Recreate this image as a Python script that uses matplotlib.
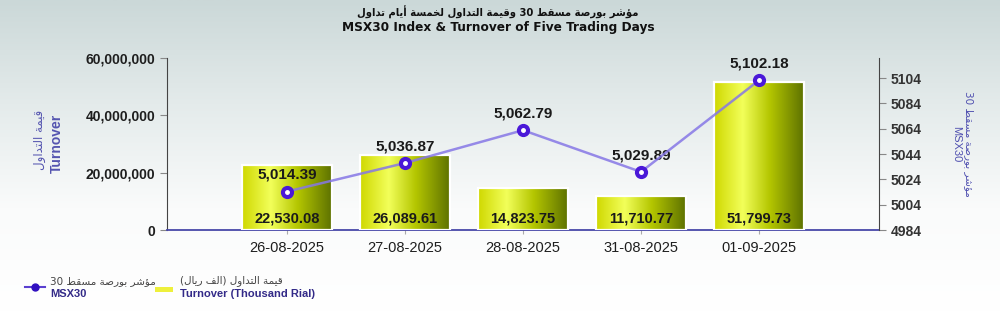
import numpy as np
import matplotlib
matplotlib.use("Agg")
import matplotlib.pyplot as plt
from matplotlib.colors import LinearSegmentedColormap
from matplotlib.lines import Line2D
from matplotlib.patches import Rectangle

# data
dates = ["26-08-2025", "27-08-2025", "28-08-2025", "31-08-2025", "01-09-2025"]
turnover = [22530.08, 26089.61, 14823.75, 11710.77, 51799.73]   # thousand rial
msx30 = [5014.39, 5036.87, 5062.79, 5029.89, 5102.18]
left_ticks = [0, 20000000, 40000000, 60000000]
right_ticks = [4984, 5004, 5024, 5044, 5064, 5084, 5104]

# tiny arabic shaper (presentation forms) since matplotlib does no shaping
FORMS = {
    'ا': ('\uFE8D', '\uFE8E'), 'أ': ('\uFE83', '\uFE84'), 'ؤ': ('\uFE85', '\uFE86'),
    'ة': ('\uFE93', '\uFE94'), 'د': ('\uFEA9', '\uFEAA'), 'ر': ('\uFEAD', '\uFEAE'),
    'و': ('\uFEED', '\uFEEE'),
    'ب': ('\uFE8F', '\uFE90', '\uFE91', '\uFE92'), 'ت': ('\uFE95', '\uFE96', '\uFE97', '\uFE98'),
    'خ': ('\uFEA5', '\uFEA6', '\uFEA7', '\uFEA8'), 'س': ('\uFEB1', '\uFEB2', '\uFEB3', '\uFEB4'),
    'ش': ('\uFEB5', '\uFEB6', '\uFEB7', '\uFEB8'), 'ص': ('\uFEB9', '\uFEBA', '\uFEBB', '\uFEBC'),
    'ط': ('\uFEC1', '\uFEC2', '\uFEC3', '\uFEC4'), 'ف': ('\uFED1', '\uFED2', '\uFED3', '\uFED4'),
    'ق': ('\uFED5', '\uFED6', '\uFED7', '\uFED8'), 'ل': ('\uFEDD', '\uFEDE', '\uFEDF', '\uFEE0'),
    'م': ('\uFEE1', '\uFEE2', '\uFEE3', '\uFEE4'), 'ي': ('\uFEF1', '\uFEF2', '\uFEF3', '\uFEF4'),
}
MIRROR = {'(': ')', ')': '('}


def shape_word(w):
    out = []
    for i, c in enumerate(w):
        if c not in FORMS:
            out.append(c)
            continue
        f = FORMS[c]
        prev = w[i - 1] if i > 0 else ''
        nxt = w[i + 1] if i + 1 < len(w) else ''
        pj = prev in FORMS and len(FORMS[prev]) == 4
        nj = len(f) == 4 and nxt in FORMS
        if pj and nj:
            out.append(f[3])
        elif pj:
            out.append(f[1])
        elif nj:
            out.append(f[2])
        else:
            out.append(f[0])
    return ''.join(out)


def ar(text):
    toks = []
    for t in text.split(' '):
        if t.isdigit():
            toks.append(t)
        else:
            s = shape_word(t)[::-1]
            toks.append(''.join(MIRROR.get(c, c) for c in s))
    return ' '.join(toks[::-1])


AR_FONT = ['DejaVu Sans']
EN_FONT = ['Liberation Sans', 'DejaVu Sans']
plt.rcParams['font.family'] = EN_FONT

fig = plt.figure(figsize=(10, 3.12), dpi=100)

# background gradient
bg = fig.add_axes([0, 0, 1, 1], zorder=-10)
grad = np.linspace(0, 1, 256).reshape(-1, 1)
bg_cmap = LinearSegmentedColormap.from_list("bg", ["#cbd8d8", "#e4ebeb", "#fafbfb", "#ffffff"])
bg.imshow(grad, aspect='auto', cmap=bg_cmap, extent=[0, 1, 0, 1], origin='upper')
bg.axis('off')

ax = fig.add_axes([0.167, 0.2628, 0.712, 0.5513])
ax.patch.set_alpha(0)
x = np.arange(len(dates))
vals = np.array(turnover) * 1000
bw = 0.76

bar_cmap = LinearSegmentedColormap.from_list(
    "bar", [(0, "#cfd800"), (0.32, "#f2ff5a"), (0.62, "#b4c600"), (1, "#5e7200")])
hgrad = np.linspace(0, 1, 256).reshape(1, -1)
for xi, v in zip(x, vals):
    rect = Rectangle((xi - bw / 2, 0), bw, v, facecolor='none', edgecolor='none')
    ax.add_patch(rect)
    im = ax.imshow(hgrad, cmap=bar_cmap, aspect='auto',
                   extent=[xi - bw / 2, xi + bw / 2, 0, v], zorder=2)
    im.set_clip_path(rect)
    ax.add_patch(Rectangle((xi - bw / 2, 0), bw, v, facecolor='none',
                           edgecolor='white', linewidth=1.6, zorder=3))

ax.set_xlim(-1.017, 5.017)
ax.set_ylim(0, 60000000)
ax.set_yticks(left_ticks)
ax.set_yticklabels([f"{t:,}" for t in left_ticks], fontsize=10, fontweight='bold', color='#1e1e1e')
ax.set_xticks(x)
ax.set_xticklabels(dates, fontsize=10.5, color='#1e1e1e')
ax.tick_params(axis='y', length=5, color='#888888', width=0.8)
ax.tick_params(axis='x', length=3, color='#aaaaaa', width=0.8, pad=5)
ax.spines['top'].set_visible(False)
ax.spines['right'].set_visible(False)
ax.spines['left'].set_color('#444444')
ax.spines['bottom'].set_color('#4848a8')
ax.spines['bottom'].set_linewidth(1.3)

for xi, t in zip(x, turnover):
    ax.annotate(f"{t:,.2f}", (xi, 0), xytext=(0, 3), textcoords='offset points',
                ha='center', va='bottom', fontsize=10.5, fontweight='bold', color='#1a1a1a',
                zorder=5)

ax2 = ax.twinx()
ax2.set_ylim(4984, 5119.8)
ax2.set_yticks(right_ticks)
ax2.set_yticklabels([str(t) for t in right_ticks], fontsize=10, fontweight='bold', color='#333333')
ax2.tick_params(axis='y', length=5, color='#888888', width=0.8)
for s in ['top', 'left', 'bottom']:
    ax2.spines[s].set_visible(False)
ax2.spines['right'].set_color('#444444')

ax2.plot(x, msx30, color='#8677e6', lw=1.8, alpha=0.85, zorder=4)
ax2.plot(x, msx30, 'o', ms=8.5, color='#4a18d8', zorder=5)
ax2.plot(x, msx30, 'o', ms=2.5, color='white', zorder=6)
for xi, v in zip(x, msx30):
    ax2.annotate(f"{v:,.2f}", (xi, v), xytext=(0, 7), textcoords='offset points',
                 ha='center', va='bottom', fontsize=11, fontweight='bold', color='#1a1a1a')

# titles
fig.text(0.498, 1 - 12 / 312, ar("مؤشر بورصة مسقط 30 وقيمة التداول لخمسة أيام تداول"),
         ha='center', va='center', fontsize=8, fontweight='bold', fontstretch='condensed',
         family=AR_FONT, color='#111111')
fig.text(0.498, 1 - 28 / 312, "MSX30 Index & Turnover of Five Trading Days",
         ha='center', va='center', fontsize=9.7, fontweight='bold', fontstretch='condensed',
         family=['DejaVu Sans'], color='#111111')

# axis labels
fig.text(40 / 1000, 1 - 140 / 312, ar("قيمة التداول"), rotation=90, ha='center', va='center',
         fontsize=8.5, family=AR_FONT, color='#5555b0')
fig.text(57 / 1000, 1 - 143 / 312, "Turnover", rotation=90, ha='center', va='center',
         fontsize=10, fontweight='bold', color='#5555b0')
fig.text(969 / 1000, 1 - 144 / 312, ar("مؤشر بورصة مسقط 30"), rotation=270, ha='center',
         va='center', fontsize=7.5, family=AR_FONT, color='#5050b0')
fig.text(956 / 1000, 1 - 144 / 312, "MSX30", rotation=270, ha='center', va='center',
         fontsize=8, color='#5050b0')

# legend
fig.add_artist(Line2D([25 / 1000, 45 / 1000], [1 - 287 / 312] * 2, color='#5a40d0', lw=1.5))
fig.add_artist(Line2D([35 / 1000], [1 - 287 / 312], marker='o', ms=5, color='#3010c0'))
fig.text(50 / 1000, 1 - 281 / 312, ar("مؤشر بورصة مسقط 30"), ha='left', va='center',
         fontsize=7.5, family=AR_FONT, color='#444444')
fig.text(50 / 1000, 1 - 294 / 312, "MSX30", ha='left', va='center', fontsize=8,
         fontweight='bold', color='#332a88')
fig.add_artist(Rectangle((155 / 1000, 1 - 292 / 312), 18 / 1000, 5 / 312,
                         transform=fig.transFigure, facecolor='#eef03c', edgecolor='none'))
fig.text(180 / 1000, 1 - 281 / 312, ar("قيمة التداول (الف ريال)"), ha='left', va='center',
         fontsize=7.5, family=AR_FONT, color='#444444')
fig.text(180 / 1000, 1 - 294 / 312, "Turnover (Thousand Rial)", ha='left', va='center',
         fontsize=8, fontweight='bold', color='#332a88')

fig.savefig("out.png", dpi=100)
